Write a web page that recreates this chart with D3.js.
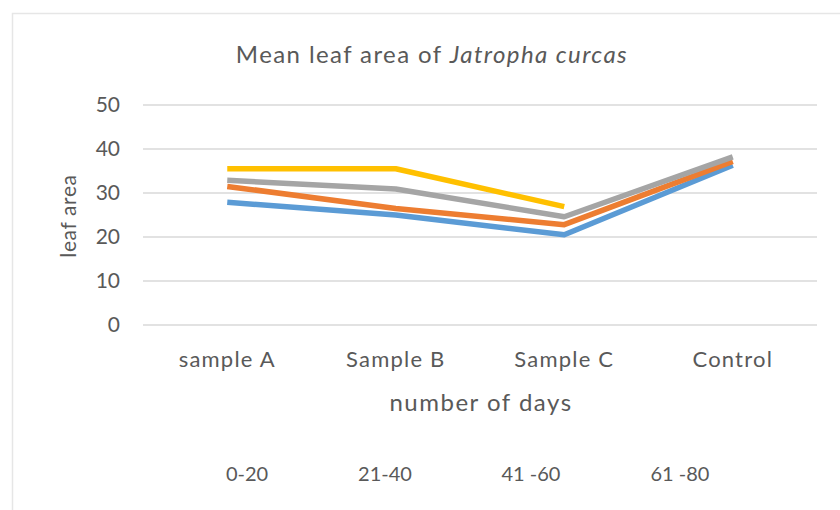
<!DOCTYPE html>
<html>
<head>
<meta charset="utf-8">
<script src="https://cdn.jsdelivr.net/npm/d3@7"></script>
<style>
  html, body { margin: 0; padding: 0; background: #ffffff; }
  svg { display: block; font-family: Lato, "Open Sans", sans-serif; }
</style>
</head>
<body>
<svg id="chart" width="840" height="510"></svg>
<script>
const categories = ["sample A", "Sample B", "Sample C", "Control"];
const seriesNames = ["0-20", "21-40", "41 -60", "61 -80"];
const series0to20 = [27.9, 25.0, 20.5, 36.3];
const series21to40 = [31.5, 26.5, 22.8, 37.2];
const series41to60 = [32.9, 30.9, 24.6, 38.2];
const series61to80 = [35.5, 35.5, 26.9, null];
const yTicks = [0, 10, 20, 30, 40, 50];
const colors = ["#5B9BD5", "#ED7D31", "#A5A5A5", "#FFC000"];
const seriesValues = [series0to20, series21to40, series41to60, series61to80];

const svg = d3.select("#chart");
const textColor = "#595959";

// outer chart border
svg.append("rect").attr("x", 12.5).attr("y", 13.5).attr("width", 840).attr("height", 510)
  .attr("fill", "#ffffff").attr("stroke", "#e6e6e6").attr("stroke-width", 1.5);

const plotLeft = 143, plotRight = 817;
const x = d3.scaleBand().domain(categories).range([plotLeft, plotRight]);
const y = d3.scaleLinear().domain([0, 50]).range([325, 105]);

// gridlines
svg.append("g").selectAll("line").data(yTicks).join("line")
  .attr("x1", plotLeft).attr("x2", plotRight)
  .attr("y1", d => y(d)).attr("y2", d => y(d))
  .attr("stroke", "#d9d9d9").attr("stroke-width", 1.5);

// y axis labels
const yAxis = d3.axisLeft(y).tickValues(yTicks).tickSize(0).tickPadding(0);
const gy = svg.append("g").attr("transform", "translate(120,0)").call(yAxis);
gy.select(".domain").remove();
gy.selectAll("text").attr("fill", textColor).style("font-size", "21px").style("font-family", "Lato");

// x axis labels
const xAxis = d3.axisBottom(x).tickSize(0).tickPadding(0);
const gx = svg.append("g").attr("transform", `translate(0,${y(0) + 26})`).call(xAxis);
gx.select(".domain").remove();
gx.selectAll("text").attr("fill", textColor).style("font-size", "22px")
  .style("letter-spacing", "1.2px").style("font-family", "Lato");

// lines
const line = d3.line()
  .defined(d => d.v != null)
  .x(d => x(d.c) + x.bandwidth() / 2)
  .y(d => y(d.v));

seriesValues.forEach((vals, i) => {
  const pts = categories.map((c, j) => ({ c, v: vals[j] }));
  svg.append("path").datum(pts)
    .attr("d", line)
    .attr("fill", "none")
    .attr("stroke", colors[i])
    .attr("stroke-width", 5.5)
    .attr("stroke-linejoin", "round")
    .attr("stroke-linecap", "butt");
});

// title
const title = svg.append("text").attr("x", 432).attr("y", 63)
  .attr("text-anchor", "middle").attr("fill", textColor)
  .style("font-size", "24px").style("letter-spacing", "1.4px").style("font-family", "Lato");
title.append("tspan").text("Mean leaf area of ");
title.append("tspan").style("font-style", "italic").text("Jatropha curcas");

// axis titles
svg.append("text").attr("x", 481).attr("y", 411).attr("text-anchor", "middle")
  .attr("fill", textColor).style("font-size", "24px").style("letter-spacing", "1.5px")
  .text("number of days");
svg.append("text").attr("transform", "translate(76,216) rotate(-90)").attr("text-anchor", "middle")
  .attr("fill", textColor).style("font-size", "21px").style("letter-spacing", "0.6px")
  .text("leaf area");

// legend (text only, as in reference)
const legendX = [247, 385, 531, 680];
svg.append("g").selectAll("text").data(seriesNames).join("text")
  .attr("x", (d, i) => legendX[i]).attr("y", 481)
  .attr("text-anchor", "middle").attr("fill", textColor)
  .style("font-size", "20px").text(d => d);
</script>
</body>
</html>
